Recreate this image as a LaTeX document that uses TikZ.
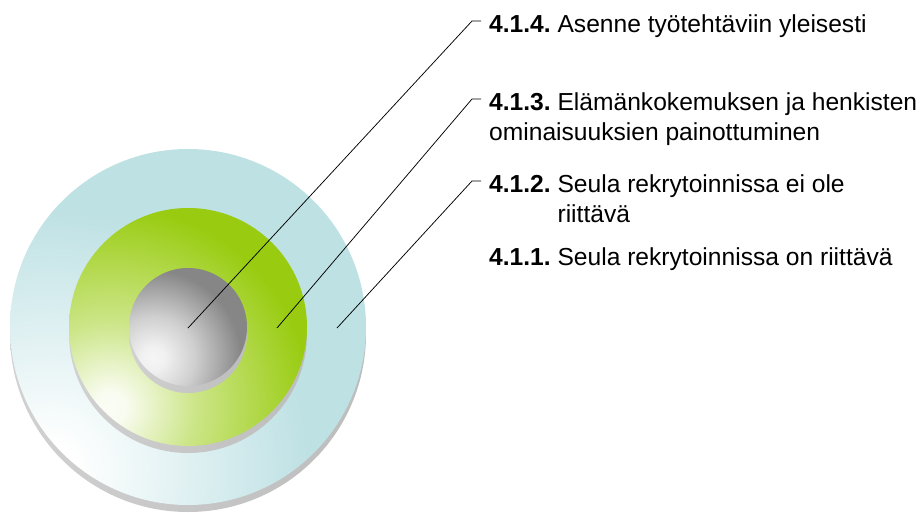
\documentclass[tikz,border=0pt]{standalone}
\usepackage{fontspec}
\setmainfont{Liberation Sans}
\frenchspacing

\definecolor{discblue}{RGB}{190,225,228}
\definecolor{discgreen}{RGB}{153,204,17}
\definecolor{discgray}{RGB}{134,134,134}

% faces: light spot low on the left, radii in pt
\pgfdeclareradialshading{blueface}{\pgfpointorigin}{color(0pt)=(white); color(25pt)=(white); color(260pt)=(discblue); color(400pt)=(discblue)}
\pgfdeclareradialshading{greenface}{\pgfpointorigin}{color(0pt)=(discgreen!4!white); color(15pt)=(discgreen!6!white); color(85pt)=(discgreen!50!white); color(200pt)=(discgreen); color(300pt)=(discgreen)}
\pgfdeclareradialshading{grayface}{\pgfpointorigin}{color(0pt)=(discgray!8!white); color(12pt)=(discgray!12!white); color(42pt)=(discgray!40!white); color(88pt)=(discgray); color(150pt)=(discgray)}

\begin{document}
\begin{tikzpicture}[x=1pt, y=-1pt,
    rim/.style={left color=black!18, middle color=black!40, right color=black!26},
    spot/.style={anchor=center, inner sep=0pt},
    leader/.style={line width=0.75pt, black},
    every node/.style={inner sep=0pt, anchor=base west, font=\fontsize{24.6}{29.8}\selectfont}]
    \useasboundingbox (0,0) rectangle (923,513);
    \coordinate (c) at (188,327);

    % discs
    \shade[rim] ([yshift=-7pt]c) circle (178pt);
    \begin{scope}
        \clip (c) circle (178pt);
        \node[spot] (bluespot) at (50,470) {\pgfuseshading{blueface}};
    \end{scope}
    \shade[rim] ([yshift=-7pt]c) circle (119pt);
    \begin{scope}
        \clip (c) circle (119pt);
        \node[spot] (greenspot) at (110,407) {\pgfuseshading{greenface}};
    \end{scope}
    \shade[rim] ([yshift=-7pt]c) circle (59pt);
    \begin{scope}
        \clip (c) circle (59pt);
        \node[spot] (grayspot) at (153,358) {\pgfuseshading{grayface}};
    \end{scope}

    \coordinate (p4) at (188,328);
    \coordinate (p3) at (277,328);
    \coordinate (p2) at (337,328);

    % labels
    \node (lbl4) at (489,33) {\textbf{4.1.4.} Asenne työtehtäviin yleisesti};
    \node (lbl3) at (489,111) {\begin{tabular}[t]{@{}l@{}}\textbf{4.1.3.} Elämänkokemuksen ja henkisten\\ominaisuuksien painottuminen\end{tabular}};
    \node (lbl2) at (489,193) {\begin{tabular}[t]{@{}l@{\ }l@{}}\textbf{4.1.2.} & Seula rekrytoinnissa ei ole\\ & riittävä\end{tabular}};
    \node (lbl1) at (489,265) {\textbf{4.1.1.} Seula rekrytoinnissa on riittävä};

    \draw[leader] (p4) -- ([xshift=-17pt,yshift=12pt]lbl4.base west) -- ([xshift=-8pt,yshift=12pt]lbl4.base west);
    \draw[leader] (p3) -- ([xshift=-17pt,yshift=12pt]lbl3.base west) -- ([xshift=-8pt,yshift=12pt]lbl3.base west);
    \draw[leader] (p2) -- ([xshift=-17pt,yshift=12pt]lbl2.base west) -- ([xshift=-8pt,yshift=12pt]lbl2.base west);
\end{tikzpicture}
\end{document}
